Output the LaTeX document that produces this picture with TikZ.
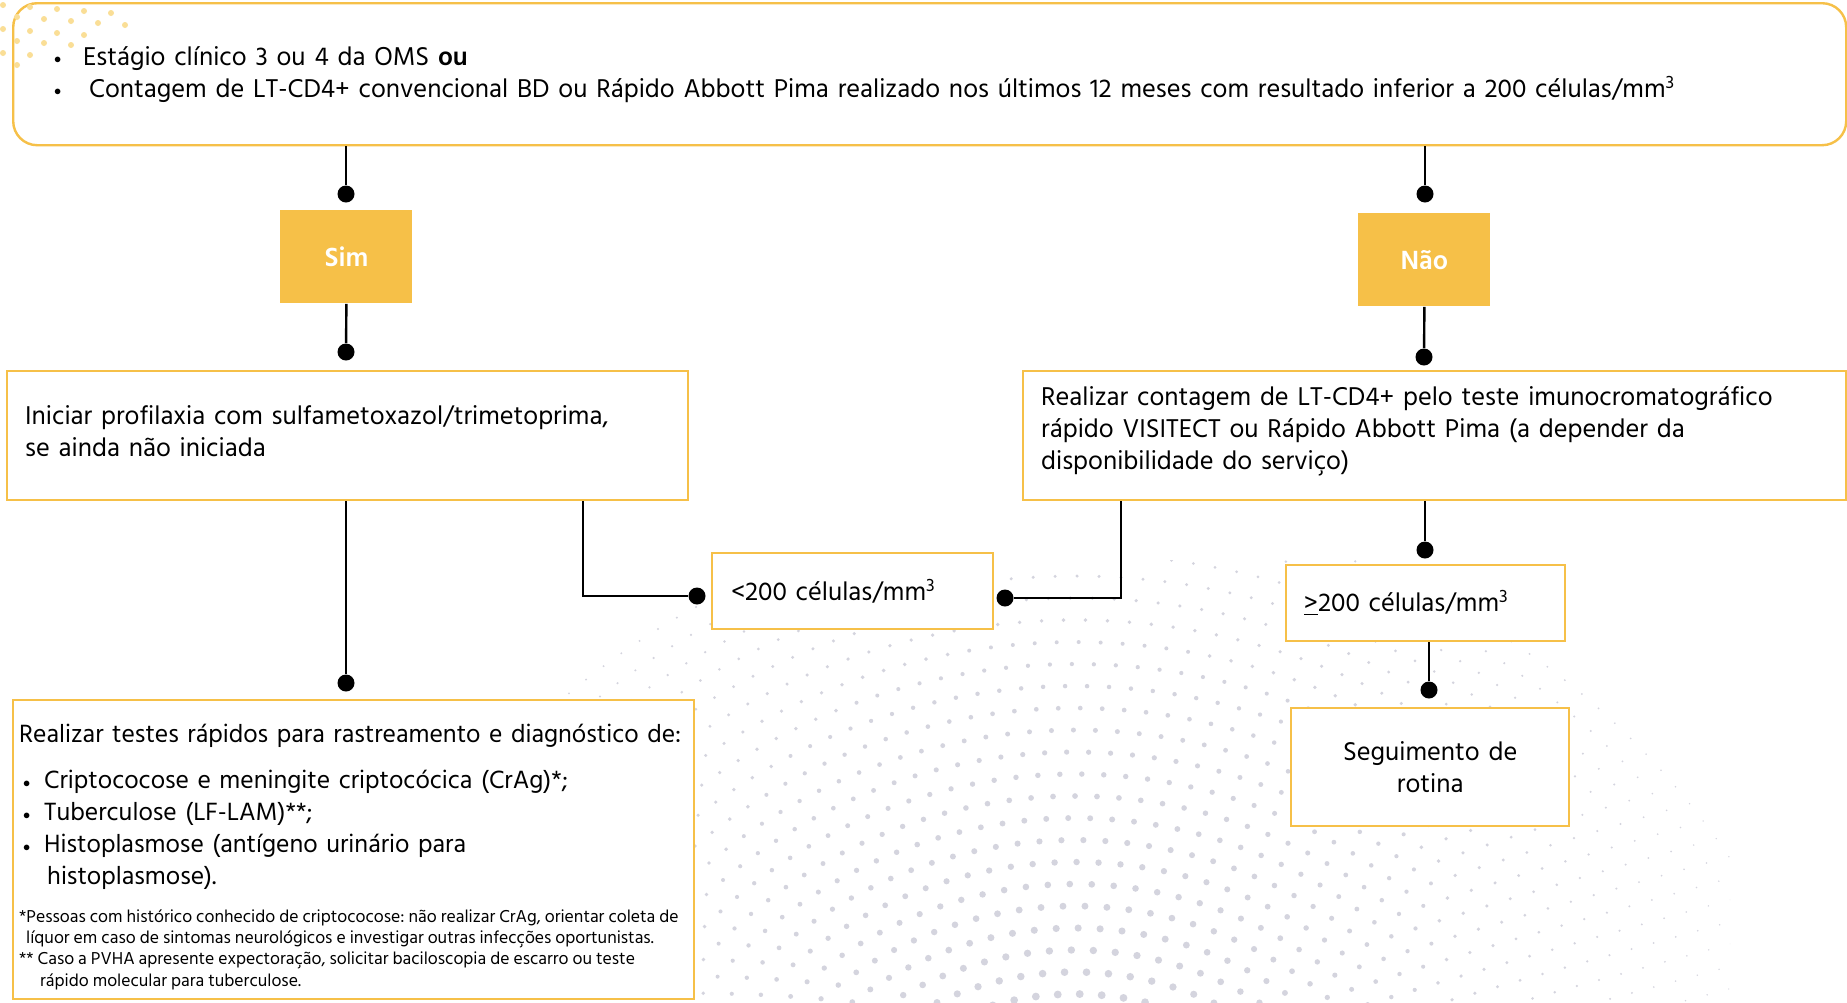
\documentclass[tikz,border=0pt]{standalone}
\usepackage{fontspec}
\setmainfont{Hind Siliguri}
\usepackage{tikz}
\usetikzlibrary{positioning, calc}
\definecolor{boxgold}{RGB}{246,192,72}
\definecolor{dotgray}{RGB}{212,212,222}
\definecolor{dotgold}{RGB}{250,222,150}
\tikzset{
    ybox/.style={draw=boxgold, line width=1.2pt, fill=white, anchor=north west, align=left,
        inner sep=0pt, font=\fontsize{13.2}{16}\selectfont},
    pick/.style={fill=boxgold, anchor=north west, inner sep=0pt, text=white,
        font=\fontsize{13.5}{16}\selectfont\bfseries},
    jdot/.style={inner sep=0pt, circle, minimum size=8.5pt, fill=black},
    link/.style={line width=1.2pt, black}
}
\newcommand{\blt}[1]{\makebox[#1][l]{\raisebox{0.6pt}{\scalebox{0.6}{$\bullet$}}}}

\begin{document}
\begin{tikzpicture}[x=0.5pt, y=-0.5pt]
    \useasboundingbox (0,0) rectangle (1847,1002);
    \fill[white] (0,0) rectangle (1847,1002);

    % halftone in the background
    \begin{scope}
        \clip (560,560) rectangle (1730,1002);
        \foreach \r in {240,262,...,790}{
            \pgfmathsetmacro{\da}{1260/\r}
            \pgfmathtruncatemacro{\n}{150/\da}
            \foreach \k in {0,...,\n}{
                \pgfmathsetmacro{\a}{15+\k*\da}
                \pgfmathsetmacro{\s}{max(0.6,(1.3+3.0*(790-\r)/550)*sin(\a))}
                \fill[dotgray] ({1075+\r*cos(\a)},{1300-\r*sin(\a)}) circle[radius=\s*0.5pt];
            }
        }
    \end{scope}

    % criteria
    \node[ybox, fill=none, rounded corners=12pt, minimum width=916.5pt, minimum height=71pt,
        text width=875.5pt, inner xsep=20.5pt] (crit) at (12,2) {
        \blt{14.5pt}Estágio clínico 3 ou 4 da OMS \textbf{ou}\\
        \blt{14.5pt}\hspace{3pt}Contagem de LT-CD4+ convencional BD ou Rápido Abbott Pima realizado nos últimos 12 meses com resultado inferior a 200 células/mm\textsuperscript{3}};
    \foreach \i in {0,...,4}{
        \foreach \j in {0,...,5}{
            \pgfmathtruncatemacro{\ok}{\i+\j<6}
            \ifnum\ok=1
                \fill[dotgold] ({3+27*\i+14*mod(\j,2)},{5+12*\j+2*\i}) circle[radius=1.5pt];
            \fi
        }
    }

    \node[pick, minimum width=66pt, minimum height=46.5pt] (yes) at (280,210) {Sim};
    \node[pick, minimum width=66pt, minimum height=46.5pt] (no) at (1358,213) {Não};

    \node[ybox, minimum width=340.5pt, minimum height=64.5pt, text width=322.5pt,
        inner xsep=9pt] (start) at (6,370)
        {Iniciar profilaxia com sulfametoxazol/trimetoprima,\\ se ainda não iniciada\\[-11pt]\mbox{}};
    \node[ybox, minimum width=411.5pt, minimum height=64.5pt, text width=393.5pt,
        inner xsep=9pt] (count) at (1022,370)
        {Realizar contagem de LT-CD4+ pelo teste imunocromatográfico\\
        rápido VISITECT ou Rápido Abbott Pima (a depender da\\
        disponibilidade do serviço)\\[-8pt]\mbox{}};

    \node[ybox, minimum width=140.5pt, minimum height=38pt, text width=121.5pt,
        inner xsep=9.5pt] (low) at (711,552) {<200 células/mm\textsuperscript{3}};
    \node[ybox, minimum width=139.5pt, minimum height=38pt, text width=121.5pt,
        inner xsep=9pt] (high) at (1285,564) {\underline{>}200 células/mm\textsuperscript{3}};
    \node[ybox, minimum width=139pt, minimum height=59pt, text width=121pt,
        inner xsep=9pt, align=center] (follow) at (1290,707) {Seguimento de\\ rotina};

    \node[ybox, minimum width=340.5pt, minimum height=149.5pt, text width=334.5pt,
        inner xsep=3pt, font=\fontsize{12.8}{16}\selectfont] (tests) at (12,699) {
        \rule{0pt}{16.5pt}Realizar testes rápidos para rastreamento e diagnóstico de:\par\vspace{7pt}
        \hspace*{2pt}\blt{10.5pt}Criptococose e meningite criptocócica (CrAg)*;\\
        \hspace*{2pt}\blt{10.5pt}Tuberculose (LF-LAM)**;\\
        \hspace*{2pt}\blt{10.5pt}Histoplasmose (antígeno urinário para\\
        \hspace*{14pt}histoplasmose).\par\vspace{8pt}
        {\fontsize{8.85}{10.7}\selectfont\spaceskip=0pt\xspaceskip=0pt\frenchspacing
        *Pessoas com histórico conhecido de criptococose: não realizar CrAg, orientar coleta de\\
        \hspace*{3.5pt}líquor em caso de sintomas neurológicos e investigar outras infecções oportunistas.\\{}
        ** Caso a PVHA apresente expectoração, solicitar baciloscopia de escarro ou teste\\
        \hspace*{10.5pt}rápido molecular para tuberculose.\par}};

    % junction dots
    \node[jdot] (d1) at (346,194) {};
    \node[jdot] (d2) at (346,352) {};
    \node[jdot] (d3) at (1425,194) {};
    \node[jdot] (d4) at (1424,357) {};
    \node[jdot] (d5) at (697,596) {};
    \node[jdot] (d6) at (1005,598) {};
    \node[jdot] (d7) at (346,683) {};
    \node[jdot] (d8) at (1425,550) {};
    \node[jdot] (d9) at (1429,690) {};

    \draw[link] (crit.south -| d1) -- (d1);
    \draw[link] (yes.south) -- (d2);
    \draw[link] (crit.south -| d3) -- (d3);
    \draw[link] (no.south) -- (d4);
    \draw[link] ([xshift=117.75pt]start.south) |- (d5);
    \draw[link] ([xshift=-156.75pt]count.south) |- (d6);
    \draw[link] (start.south -| d7) -- (d7);
    \draw[link] (count.south -| d8) -- (d8);
    \draw[link] (high.south -| d9) -- (d9);
\end{tikzpicture}
\end{document}
